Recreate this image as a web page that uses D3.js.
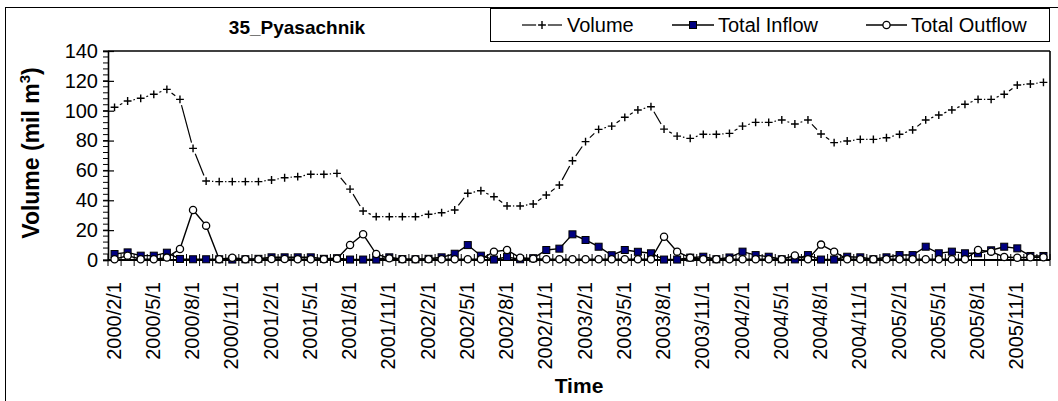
<!DOCTYPE html>
<html>
<head>
<meta charset="utf-8">
<script src="https://cdn.jsdelivr.net/npm/d3@7"></script>
<style>
  html, body { margin: 0; padding: 0; background: #fff; }
  svg { display: block; font-family: Arial, "Liberation Sans", sans-serif; }
</style>
</head>
<body>
<svg id="chart" width="1058" height="401"></svg>
<script>
const title = "35_Pyasachnik";
const categories = [
  "2000/2/1","2000/3/1","2000/4/1","2000/5/1","2000/6/1","2000/7/1","2000/8/1","2000/9/1","2000/10/1","2000/11/1","2000/12/1","2001/1/1",
  "2001/2/1","2001/3/1","2001/4/1","2001/5/1","2001/6/1","2001/7/1","2001/8/1","2001/9/1","2001/10/1","2001/11/1","2001/12/1","2002/1/1",
  "2002/2/1","2002/3/1","2002/4/1","2002/5/1","2002/6/1","2002/7/1","2002/8/1","2002/9/1","2002/10/1","2002/11/1","2002/12/1","2003/1/1",
  "2003/2/1","2003/3/1","2003/4/1","2003/5/1","2003/6/1","2003/7/1","2003/8/1","2003/9/1","2003/10/1","2003/11/1","2003/12/1","2004/1/1",
  "2004/2/1","2004/3/1","2004/4/1","2004/5/1","2004/6/1","2004/7/1","2004/8/1","2004/9/1","2004/10/1","2004/11/1","2004/12/1","2005/1/1",
  "2005/2/1","2005/3/1","2005/4/1","2005/5/1","2005/6/1","2005/7/1","2005/8/1","2005/9/1","2005/10/1","2005/11/1","2005/12/1","2006/1/1"
];
const volume = [
  102.3,106.5,108.3,111.0,114.3,107.6,74.8,52.9,52.5,52.5,52.5,52.5,
  53.6,55.1,55.8,57.4,57.4,58.0,47.5,32.8,29.0,29.0,29.0,29.0,
  30.6,31.7,33.5,44.7,46.4,42.4,36.2,36.2,37.5,43.5,50.2,66.5,
  79.3,87.5,89.7,95.6,100.5,102.7,87.7,83.0,81.5,84.2,84.2,84.8,
  89.7,92.2,92.2,93.8,91.1,93.8,84.4,78.6,79.7,80.8,80.8,81.9,
  84.2,87.1,93.8,97.1,100.5,104.3,107.6,107.6,111.0,117.2,117.9,119.0
];
const inflow = [
  4.0,5.1,2.9,2.9,4.9,0.7,0.5,0.5,0.5,0.3,0.5,0.8,
  1.8,1.8,1.8,1.8,0.8,1.2,0.3,0.3,0.3,1.8,0.6,0.5,
  0.8,1.8,4.2,10.0,2.9,0.3,2.0,0.5,1.2,6.7,7.6,17.2,
  13.4,8.9,3.2,6.7,5.5,4.5,0.3,0.3,1.6,2.2,0.5,1.7,
  5.6,3.3,2.2,0.5,0.4,3.3,0.3,0.3,2.2,1.8,0.5,1.8,
  3.3,3.3,8.9,4.5,5.6,4.5,4.5,6.5,8.9,7.8,2.7,2.7
];
const outflow = [
  0.5,2.9,0.5,0.5,1.6,7.4,33.5,23.0,0.5,1.5,0.5,0.5,
  0.7,0.7,0.5,0.5,0.5,0.9,10.0,17.2,4.0,1.1,0.5,0.5,
  0.5,0.5,0.5,0.5,0.5,5.6,6.7,1.5,0.9,0.5,0.5,0.5,
  0.5,0.5,0.5,0.5,0.5,0.5,15.6,5.6,1.5,0.5,0.5,0.5,
  0.5,0.5,0.5,0.5,3.0,0.5,10.3,5.6,0.5,0.5,0.5,0.5,
  0.5,0.5,0.5,0.5,0.5,0.5,6.7,5.6,2.0,1.5,1.8,1.8
];
const yTicks = [0,20,40,60,80,100,120,140];
const seriesNames = ["Volume","Total Inflow","Total Outflow"];

const svg = d3.select("#chart");
const L = 108, R = 1050, T = 51, B = 260;

// outer chart border
svg.append("rect").attr("x",5.5).attr("y",7.5).attr("width",1060).attr("height",400)
  .attr("fill","none").attr("stroke","#000").attr("stroke-width",1);

const x = d3.scalePoint().domain(categories).range([L,R]).padding(0.5);
const step = x.step();
const y = d3.scaleLinear().domain([0,140]).range([B,T]);

// plot frame top/right
svg.append("line").attr("x1",L).attr("x2",R).attr("y1",T).attr("y2",T).attr("stroke","#000").attr("stroke-width",1.6);
svg.append("line").attr("x1",R).attr("x2",R).attr("y1",T).attr("y2",B).attr("stroke","#000").attr("stroke-width",1.6);

// Y axis
const yAxisG = svg.append("g").attr("transform",`translate(${L},0)`);
const minorTicks = d3.range(0,141,4);
yAxisG.selectAll("line.minor").data(minorTicks).join("line")
  .attr("x1",-5).attr("x2",0).attr("y1",d=>y(d)).attr("y2",d=>y(d)).attr("stroke","#000").attr("stroke-width",1);
const yAxis = d3.axisLeft(y).tickValues(yTicks).tickSize(5).tickPadding(5);
yAxisG.call(yAxis);
yAxisG.select(".domain").attr("stroke-width",1.6);
yAxisG.selectAll(".tick line").attr("x1",-5).attr("x2",6).attr("stroke-width",1.2);
yAxisG.selectAll(".tick text").attr("font-size",20).attr("font-family","Arial").attr("fill","#000").attr("x",-10);

// X axis (ticks between categories)
const xAxisG = svg.append("g");
xAxisG.selectAll("line.xt").data(d3.range(categories.length+1)).join("line")
  .attr("x1",i=>L+i*step).attr("x2",i=>L+i*step).attr("y1",B-6).attr("y2",B+6)
  .attr("stroke","#000").attr("stroke-width",1);
xAxisG.append("line").attr("x1",L).attr("x2",R).attr("y1",B).attr("y2",B).attr("stroke","#000").attr("stroke-width",2);
const labelCats = categories.filter((d,i)=>i%3===0);
xAxisG.selectAll("text.xl").data(labelCats).join("text")
  .attr("transform",d=>`translate(${x(d)+6},282) rotate(-90)`)
  .attr("text-anchor","end").attr("font-size",20).attr("font-family","Arial").text(d=>d);

// Axis titles
svg.append("text").attr("x",(L+R)/2).attr("y",393).attr("text-anchor","middle")
  .attr("font-size",21).attr("font-weight","bold").text("Time");
const yt = svg.append("text").attr("transform","translate(39,153) rotate(-90)").attr("text-anchor","middle")
  .attr("font-size",23).attr("font-weight","bold");
yt.append("tspan").text("Volume (mil m");
yt.append("tspan").attr("font-size",15).attr("dy",-9).text("3");
yt.append("tspan").attr("dy",9).text(")");

// Title
svg.append("text").attr("x",297).attr("y",34).attr("text-anchor","middle")
  .attr("font-size",19).attr("font-weight","bold").text(title);

// Volume series: line segments broken around markers
const gap = 5.9, arm = 3.9;
const pts = volume.map((v,i)=>[x(categories[i]), y(v)]);
const segs = d3.pairs(pts).map(([a,b])=>{
  const dx=b[0]-a[0], dy=b[1]-a[1], len=Math.hypot(dx,dy);
  const ux=dx/len, uy=dy/len;
  return {len, x1:a[0]+ux*gap, y1:a[1]+uy*gap, x2:b[0]-ux*gap, y2:b[1]-uy*gap};
}).filter(s=>s.len>2*gap);
svg.append("g").selectAll("line").data(segs).join("line")
  .attr("x1",s=>s.x1).attr("y1",s=>s.y1).attr("x2",s=>s.x2).attr("y2",s=>s.y2)
  .attr("stroke","#000").attr("stroke-width",1.2);
const plus = (g, cx, cy) => g.append("path").attr("d",`M${cx-arm},${cy}H${cx+arm}M${cx},${cy-arm}V${cy+arm}`)
  .attr("stroke","#000").attr("stroke-width",1.4);
const volG = svg.append("g");
pts.forEach(p=>plus(volG, p[0], p[1]));

// Inflow
const lineIn = d3.line().x((d,i)=>x(categories[i])).y(d=>y(d));
svg.append("path").datum(inflow).attr("d",lineIn).attr("fill","none").attr("stroke","#000").attr("stroke-width",1.4);
svg.append("g").selectAll("rect").data(inflow).join("rect")
  .attr("x",(d,i)=>x(categories[i])-3.5).attr("y",d=>y(d)-3.5).attr("width",7).attr("height",7)
  .attr("fill","#000080").attr("stroke","#000").attr("stroke-width",1);

// Outflow
svg.append("path").datum(outflow).attr("d",lineIn).attr("fill","none").attr("stroke","#000").attr("stroke-width",1.4);
svg.append("g").selectAll("circle").data(outflow).join("circle")
  .attr("cx",(d,i)=>x(categories[i])).attr("cy",d=>y(d)).attr("r",3.6)
  .attr("fill","#fff").attr("stroke","#000").attr("stroke-width",1.3);

// Legend
const lg = svg.append("g");
lg.append("rect").attr("x",490.5).attr("y",8.5).attr("width",559).attr("height",33)
  .attr("fill","#fff").attr("stroke","#000").attr("stroke-width",1);
const ly = 25;
const items = [
  {name:seriesNames[0], x0:522, x1:562, tx:567, m:"plus"},
  {name:seriesNames[1], x0:672, x1:714, tx:718, m:"sq"},
  {name:seriesNames[2], x0:866, x1:907, tx:911, m:"ci"}
];
items.forEach(it=>{
  const cx=(it.x0+it.x1)/2;
  if(it.m==="plus"){
    lg.append("line").attr("x1",it.x0).attr("x2",cx-5.9).attr("y1",ly).attr("y2",ly).attr("stroke","#000").attr("stroke-width",1.2);
    lg.append("line").attr("x1",cx+5.9).attr("x2",it.x1).attr("y1",ly).attr("y2",ly).attr("stroke","#000").attr("stroke-width",1.2);
    plus(lg,cx,ly);
  } else {
    lg.append("line").attr("x1",it.x0).attr("x2",it.x1).attr("y1",ly).attr("y2",ly).attr("stroke","#000").attr("stroke-width",1.4);
  }
  if(it.m==="sq") lg.append("rect").attr("x",cx-3.5).attr("y",ly-3.5).attr("width",7).attr("height",7).attr("fill","#000080").attr("stroke","#000");
  if(it.m==="ci") lg.append("circle").attr("cx",cx).attr("cy",ly).attr("r",3.6).attr("fill","#fff").attr("stroke","#000").attr("stroke-width",1.3);
  lg.append("text").attr("x",it.tx).attr("y",ly+7).attr("font-size",20).text(it.name);
});
</script>
</body>
</html>
